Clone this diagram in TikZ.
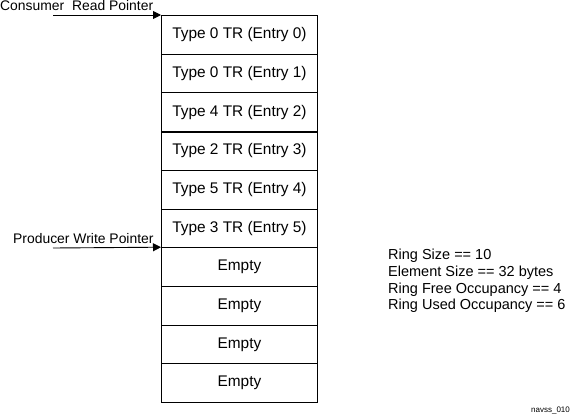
\documentclass[tikz,border=0pt]{standalone}
\usepackage{fontspec}
\setmainfont{Liberation Sans}
\usetikzlibrary{arrows.meta}
\begin{document}
\begin{tikzpicture}[x=1pt,y=-1pt,
  cell/.style={draw,line width=0.9pt,minimum width=156pt,minimum height=38.7pt,anchor=north west,inner sep=0pt,font=\fontsize{15.4}{17}\selectfont},
  ptr/.style={line width=0.9pt,-{Triangle[length=8pt,width=8pt]}},
  lbl/.style={font=\fontsize{13.9}{15}\selectfont,inner sep=0pt,anchor=base west}]
\useasboundingbox (0,0) rectangle (578,415);
\foreach \t [count=\i from 0] in {Type 0 TR (Entry 0),Type 0 TR (Entry 1),Type 4 TR (Entry 2),Type 2 TR (Entry 3),Type 5 TR (Entry 4),Type 3 TR (Entry 5),Empty,Empty,Empty,Empty}{
  \node[cell] (c\i) at (161,{15+38.7*\i}) {\t};
}
\draw[line width=1.6pt] (c2.south west) -- (c2.south east);
\coordinate (cs) at (53,15);
\coordinate (ps) at (53,248);
\draw[ptr] (cs) -- (c0.north west);
\draw[ptr] (ps) -- (c6.north west);
\node[lbl] (cl) at (0,10) {Consumer\ \ Read Pointer};
\node[lbl] (pl) at (13,243) {Producer Write Pointer};
\node[font=\fontsize{14.5}{16.7}\selectfont,align=left,anchor=north west,inner sep=0pt] (info) at (388,249)
  {Ring Size == 10\\Element Size == 32 bytes\\Ring Free Occupancy == 4\\Ring Used Occupancy == 6};
\node[font=\fontsize{8}{9}\selectfont,anchor=base west,inner sep=0pt] (id) at (531,412) {navss\_010};
\end{tikzpicture}
\end{document}
